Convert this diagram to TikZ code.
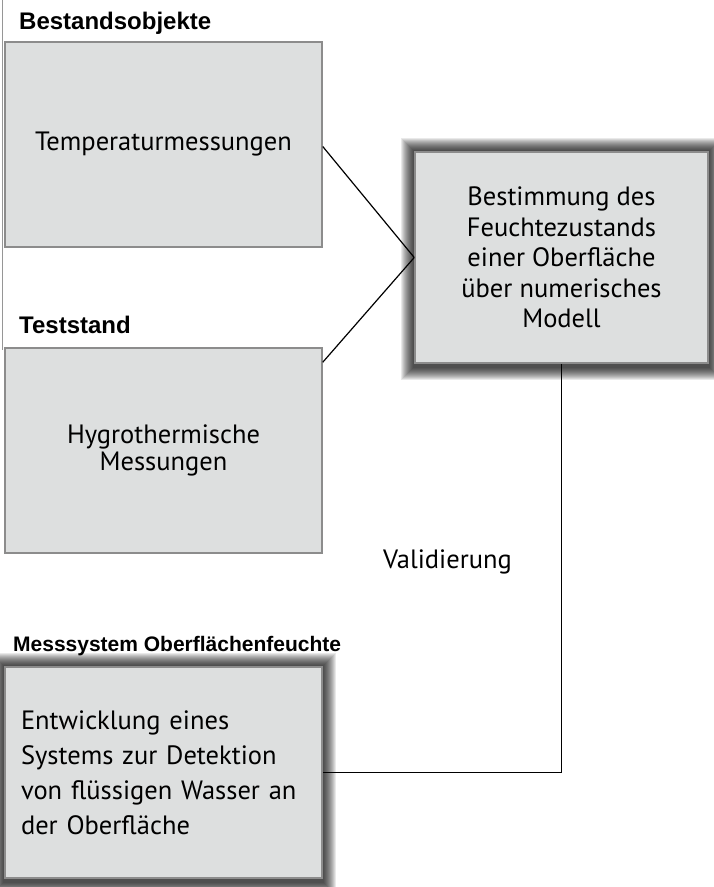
\documentclass[tikz,border=0pt]{standalone}
\usepackage{fontspec}
\setmainfont{PT Sans}
\newfontfamily\headfont{Liberation Sans}
\usetikzlibrary{calc,backgrounds}

\definecolor{boxfill}{RGB}{221,223,223}
\definecolor{boxdraw}{RGB}{140,140,140}
\definecolor{rand}{RGB}{150,150,150}

\begin{document}
\begin{tikzpicture}[x=1pt,y=-1pt]
        \tikzset{
            kasten/.style={
                draw=boxdraw,
                fill=boxfill,
                line width=1.5pt,
                inner sep=0pt,
                font=\fontsize{26.5}{#1}\selectfont
            },
            kasten/.default=32,
            titel/.style={
                anchor=base west,
                inner sep=0pt,
                font=\headfont\bfseries\fontsize{#1}{24}\selectfont
            },
            titel/.default=24,
            linie/.style={
                black,
                line width=1.2pt
            },
            glow/.style={
                black,
                opacity=0.085
            }
        }
        \useasboundingbox (0,0) rectangle (713,887);
        \clip (0,0) rectangle (713,887);

        % linker rand
        \draw[rand, line width=1.5pt] (2.5,0) -- (2.5,350);

        % kaesten
        \node[kasten, minimum width=317, minimum height=205, align=center] (temp) at (163.5,144.5) {Temperaturmessungen};
        \node[kasten=27, minimum width=317, minimum height=205, align=center] (hygro) at (163.5,450.5) {Hygrothermische\\Messungen};
        \node[kasten=30.5, minimum width=293, minimum height=211, align=center] (modell) at (561.5,257.5) {Bestimmung des\\Feuchtezustands\\einer Oberfläche\\über numerisches\\Modell};
        \node[kasten=35, minimum width=317, minimum height=211, align=left, text width=285] (detekt) at (163.5,772.5) {Entwicklung eines\\Systems zur Detektion\\von flüssigen Wasser an\\der Oberfläche};

        % schatten
        \begin{scope}[on background layer]
            \foreach \d in {1,...,13} {
                \fill[glow] ([xshift=-\d pt, yshift=\d pt]modell.north west) rectangle ([xshift=\d pt, yshift=-\d pt-3pt]modell.south east);
                \fill[glow] ([xshift=-\d pt, yshift=\d pt]detekt.north west) rectangle ([xshift=\d pt, yshift=-\d pt-3pt]detekt.south east);
            }
        \end{scope}

        % titel
        \node[titel] (t1) at (19,29.5) {Bestandsobjekte};
        \node[titel] (t2) at (19,333) {Teststand};
        \node[titel=21] (t3) at (13,651) {Messsystem Oberflächenfeuchte};

        % verbindungen
        \draw[linie] ([yshift=-2pt]temp.east) -- (modell.west);
        \draw[linie] ([yshift=-15pt]hygro.north east) -- (modell.west);
        \draw[linie] (modell.south) |- (detekt.east);

        \node[anchor=base west, inner sep=0pt, font=\fontsize{26.5}{32}\selectfont] (valid) at (383,568) {Validierung};

\end{tikzpicture}
\end{document}
